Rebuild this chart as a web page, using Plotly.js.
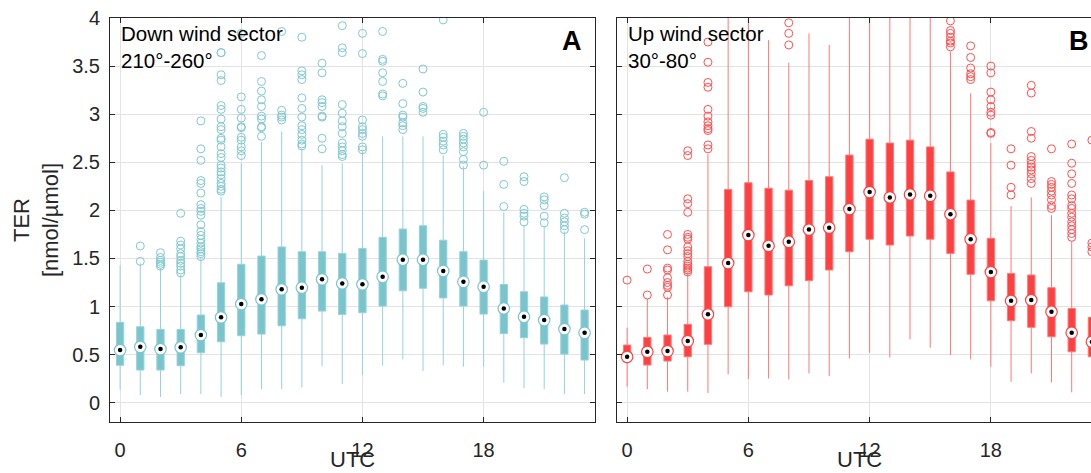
<!DOCTYPE html>
<html>
<head>
<meta charset="utf-8">
<script src="https://cdn.plot.ly/plotly-3.0.1.min.js"></script>
<style>
html,body{margin:0;padding:0;overflow:hidden;background:#fff;}
#chart{width:1110px;height:473px;}
</style>
</head>
<body>
<div id="chart"></div>
<script>
const HOURS = [0,1,2,3,4,5,6,7,8,9,10,11,12,13,14,15,16,17,18,19,20,21,22,23];
const X_TICKS = [0,6,12,18];
const Y_TICKS = [0,0.5,1,1.5,2,2.5,3,3.5,4];
const Y_TICK_TEXT = ['0','0.5','1','1.5','2','2.5','3','3.5','4'];

// Panel A: Down wind sector 210°-260°
const A_q1  = [0.39,0.34,0.34,0.385,0.52,0.634,0.697,0.714,0.80,0.873,0.953,0.918,0.936,1.005,1.164,1.19,1.09,1.005,0.922,0.72,0.676,0.61,0.506,0.444];
const A_med = [0.548,0.582,0.558,0.576,0.704,0.888,1.026,1.075,1.179,1.196,1.283,1.241,1.231,1.31,1.487,1.487,1.37,1.258,1.206,0.981,0.894,0.86,0.766,0.728];
const A_q3  = [0.836,0.79,0.763,0.763,0.912,1.247,1.44,1.525,1.62,1.57,1.57,1.553,1.605,1.72,1.806,1.84,1.69,1.57,1.483,1.23,1.154,1.10,1.016,0.964];
const A_lo  = [0.139,0.08,0.06,0.09,0.09,0.06,0.08,0.142,0.142,0.16,0.38,0.194,0.288,0.385,0.451,0.33,0.39,0.374,0.374,0.208,0.15,0.14,0.09,0.09];
const A_hi  = [1.43,1.45,1.40,1.33,1.50,2.14,2.49,2.71,2.82,2.64,2.47,2.49,2.61,2.77,2.77,2.77,2.57,2.46,2.2,1.98,1.84,1.83,1.78,1.71];
const A_out = [
  [],
  [1.63,1.47],
  [1.56,1.51,1.48,1.46,1.44,1.42],
  [1.97,1.68,1.64,1.60,1.55,1.52,1.48,1.45,1.42,1.38,1.35],
  [2.93,2.64,2.52,2.31,2.28,2.18,2.06,2.02,1.99,1.95,1.85,1.78,1.74,1.70,1.66,1.62,1.60,1.57,1.55,1.52],
  [3.64,3.64,3.41,3.35,3.09,3.05,2.95,2.87,2.84,2.75,2.73,2.66,2.59,2.55,2.47,2.44,2.40,2.37,2.33,2.28,2.25,2.22,2.20],
  [3.84,3.18,3.05,2.96,2.87,2.86,2.76,2.73,2.66,2.62,2.57],
  [3.61,3.34,3.24,3.15,3.08,2.98,2.95,2.87,2.86,2.77],
  [3.86,3.04,2.99,2.97,2.94],
  [3.80,3.45,3.41,3.36,3.17,3.06,2.97,2.88,2.84,2.79,2.73,2.69,2.67],
  [3.53,3.43,3.15,3.12,3.08,2.98,2.97,2.75,2.64],
  [3.92,3.69,3.64,3.10,3.01,2.93,2.87,2.80,2.70,2.66,2.62,2.58,2.56],
  [3.84,3.63,2.94,2.87,2.84,2.80,2.77,2.66,2.63],
  [3.86,3.57,3.55,3.43,3.34,3.21,3.19],
  [3.32,3.11,2.99,2.97,2.91,2.88,2.84],
  [3.47,3.23,3.08,3.06,3.02],
  [3.98,2.79,2.76,2.72,2.68,2.63],
  [2.80,2.77,2.74,2.70,2.66,2.61,2.53,2.47],
  [3.02,2.47],
  [2.51,2.27,2.04],
  [2.35,2.30,2.01,1.97,1.94,1.88],
  [2.14,2.11,2.05,1.94,1.87],
  [2.34,1.97,1.92,1.88,1.84,1.80],
  [1.98,1.96,1.80]
];

// Panel B: Up wind sector 30°-80°
const B_q1  = [0.426,0.392,0.434,0.478,0.607,0.998,1.154,1.12,1.216,1.27,1.38,1.57,1.70,1.64,1.733,1.70,1.553,1.335,1.06,0.853,0.784,0.686,0.53,0.478];
const B_med = [0.478,0.53,0.537,0.641,0.919,1.452,1.743,1.632,1.674,1.80,1.82,2.014,2.19,2.135,2.166,2.152,1.96,1.70,1.359,1.06,1.068,0.946,0.728,0.634];
const B_q3  = [0.60,0.68,0.704,0.815,1.414,2.218,2.287,2.23,2.21,2.31,2.35,2.575,2.74,2.70,2.73,2.66,2.40,2.107,1.71,1.345,1.328,1.196,0.98,0.888];
const B_lo  = [0.167,0.142,0.115,0.115,0.10,0.295,0.246,0.253,0.243,0.305,0.278,0.46,0.52,0.472,0.659,0.572,0.496,0.451,0.374,0.218,0.305,0.212,0.108,0.12];
const B_hi  = [0.78,1.08,1.10,1.35,2.585,4.6,4.6,3.77,3.535,3.84,3.72,4.6,4.6,4.6,4.6,4.6,3.65,3.216,2.70,2.045,2.135,1.95,1.68,1.50];
const B_out = [
  [1.275],
  [1.39,1.12],
  [1.75,1.59,1.40,1.38,1.30,1.25,1.22,1.20,1.12],
  [2.62,2.57,2.12,2.07,1.98,1.75,1.72,1.70,1.62,1.58,1.55,1.52,1.47,1.44,1.42,1.40,1.38,1.36],
  [3.75,3.54,3.33,3.28,3.05,2.98,2.92,2.88,2.85,2.83,2.68,2.64],
  [],
  [],
  [],
  [3.95,3.84,3.72],
  [],
  [],
  [],
  [],
  [],
  [],
  [],
  [3.97,3.87,3.84,3.80,3.76,3.74,3.70],
  [3.71,3.59,3.48,3.42,3.39,3.36],
  [3.50,3.43,3.23,3.15,3.08,3.02,2.99,2.81,2.80],
  [2.64,2.47,2.24,2.16],
  [3.30,3.22,2.82,2.75,2.56,2.52,2.48,2.45,2.42,2.38,2.33,2.28],
  [2.64,2.30,2.27,2.24,2.20,2.16,2.11,2.05,2.02],
  [2.69,2.49,2.38,2.28,2.16,2.12,2.05,2.02,1.97,1.93,1.88,1.84,1.80,1.76,1.72],
  [2.73,1.66,1.62,1.57]
];

const FONT = 'Liberation Sans, Arial, Helvetica, sans-serif';
const TXT = '#262626';

function panelTraces(q1, med, q3, lo, hi, out, col, xa, ya) {
  const ox = [], oy = [];
  out.forEach((vals, i) => vals.forEach(v => { ox.push(HOURS[i]); oy.push(v); }));
  return [
    {type:'box', x:HOURS, q1:q1, median:med, q3:q3, lowerfence:lo, upperfence:hi,
     width:0.36, whiskerwidth:0, boxpoints:false, fillcolor:col.box,
     line:{color:col.whisk, width:1}, xaxis:xa, yaxis:ya, hoverinfo:'skip', showlegend:false},
    {type:'scatter', mode:'markers', x:ox, y:oy, xaxis:xa, yaxis:ya, showlegend:false, hoverinfo:'skip',
     marker:{symbol:'circle-open', size:8, color:col.out, line:{width:1, color:col.out}}},
    {type:'scatter', mode:'markers', x:HOURS, y:med, xaxis:xa, yaxis:ya, showlegend:false, hoverinfo:'skip',
     marker:{symbol:'circle', size:11.5, color:'#ffffff', line:{width:1.2, color:col.ring}}},
    {type:'scatter', mode:'markers', x:HOURS, y:med, xaxis:xa, yaxis:ya, showlegend:false, hoverinfo:'skip',
     marker:{symbol:'circle', size:4.5, color:'#000000', line:{width:0}}}
  ];
}

const teal = {box:'rgb(122,197,205)', whisk:'rgb(150,210,217)', out:'rgb(128,200,208)', ring:'rgb(122,197,205)'};
const red  = {box:'rgb(255,64,64)', whisk:'rgb(255,120,120)', out:'rgb(255,80,80)', ring:'rgb(255,64,64)'};

const data = [].concat(
  panelTraces(A_q1, A_med, A_q3, A_lo, A_hi, A_out, teal, 'x', 'y'),
  panelTraces(B_q1, B_med, B_q3, B_lo, B_hi, B_out, red, 'x2', 'y2')
);

function xax(domain, anchor) {
  return {domain:domain, anchor:anchor, range:[-0.5,23.5], tickvals:X_TICKS, ticktext:X_TICKS.map(String),
    ticks:'inside', ticklen:5, tickcolor:TXT, showline:true, linecolor:TXT, linewidth:1, mirror:'ticks',
    showgrid:true, gridcolor:'#e3e3e3', gridwidth:1, zeroline:false, ticklabelstandoff:10,
    tickfont:{family:FONT, size:20, color:TXT}, fixedrange:true};
}
function yax(anchor, labels) {
  return {anchor:anchor, domain:[0,1], range:[-0.2,4], tickvals:Y_TICKS, ticktext:Y_TICK_TEXT,
    showticklabels:labels, ticks:'inside', ticklen:5, tickcolor:TXT, showline:true, linecolor:TXT, linewidth:1,
    mirror:'ticks', showgrid:true, gridcolor:'#e3e3e3', gridwidth:1, zeroline:false, ticklabelstandoff:5,
    tickfont:{family:FONT, size:20, color:TXT}, fixedrange:true};
}

const annFont = {family:FONT, size:20.5, color:'#000'};
const layout = {
  width:1110, height:473,
  margin:{l:110, r:8, t:18, b:51},
  paper_bgcolor:'#fff', plot_bgcolor:'#fff',
  xaxis: xax([0,0.4886],'y'),
  yaxis: yax('x', true),
  xaxis2: xax([0.5111,1],'y2'),
  yaxis2: yax('x2', false),
  annotations:[
    {text:'Down wind sector<br>210°-260°', xref:'x domain', yref:'y domain', x:0.018, y:0.995, xanchor:'left', yanchor:'top', align:'left', showarrow:false, font:annFont},
    {text:'<b>A</b>', xref:'x domain', yref:'y domain', x:0.978, y:0.985, xanchor:'right', yanchor:'top', showarrow:false, font:{family:FONT, size:27, color:'#000'}},
    {text:'Up wind sector<br>30°-80°', xref:'x2 domain', yref:'y2 domain', x:0.018, y:0.995, xanchor:'left', yanchor:'top', align:'left', showarrow:false, font:annFont},
    {text:'<b>B</b>', xref:'x2 domain', yref:'y2 domain', x:0.978, y:0.985, xanchor:'right', yanchor:'top', showarrow:false, font:{family:FONT, size:27, color:'#000'}},
    {text:'UTC', xref:'x domain', yref:'paper', x:0.5, y:-0.092, xanchor:'center', yanchor:'middle', showarrow:false, font:{family:FONT, size:22, color:TXT}},
    {text:'UTC', xref:'x2 domain', yref:'paper', x:0.5, y:-0.092, xanchor:'center', yanchor:'middle', showarrow:false, font:{family:FONT, size:22, color:TXT}},
    {text:'TER<br>[nmol/µmol]', xref:'paper', yref:'paper', x:-0.0745, y:0.5, xanchor:'center', yanchor:'middle', textangle:-90, showarrow:false, font:{family:FONT, size:22, color:TXT}}
  ]
};

Plotly.newPlot('chart', data, layout, {displayModeBar:false, staticPlot:true});
</script>
</body>
</html>
